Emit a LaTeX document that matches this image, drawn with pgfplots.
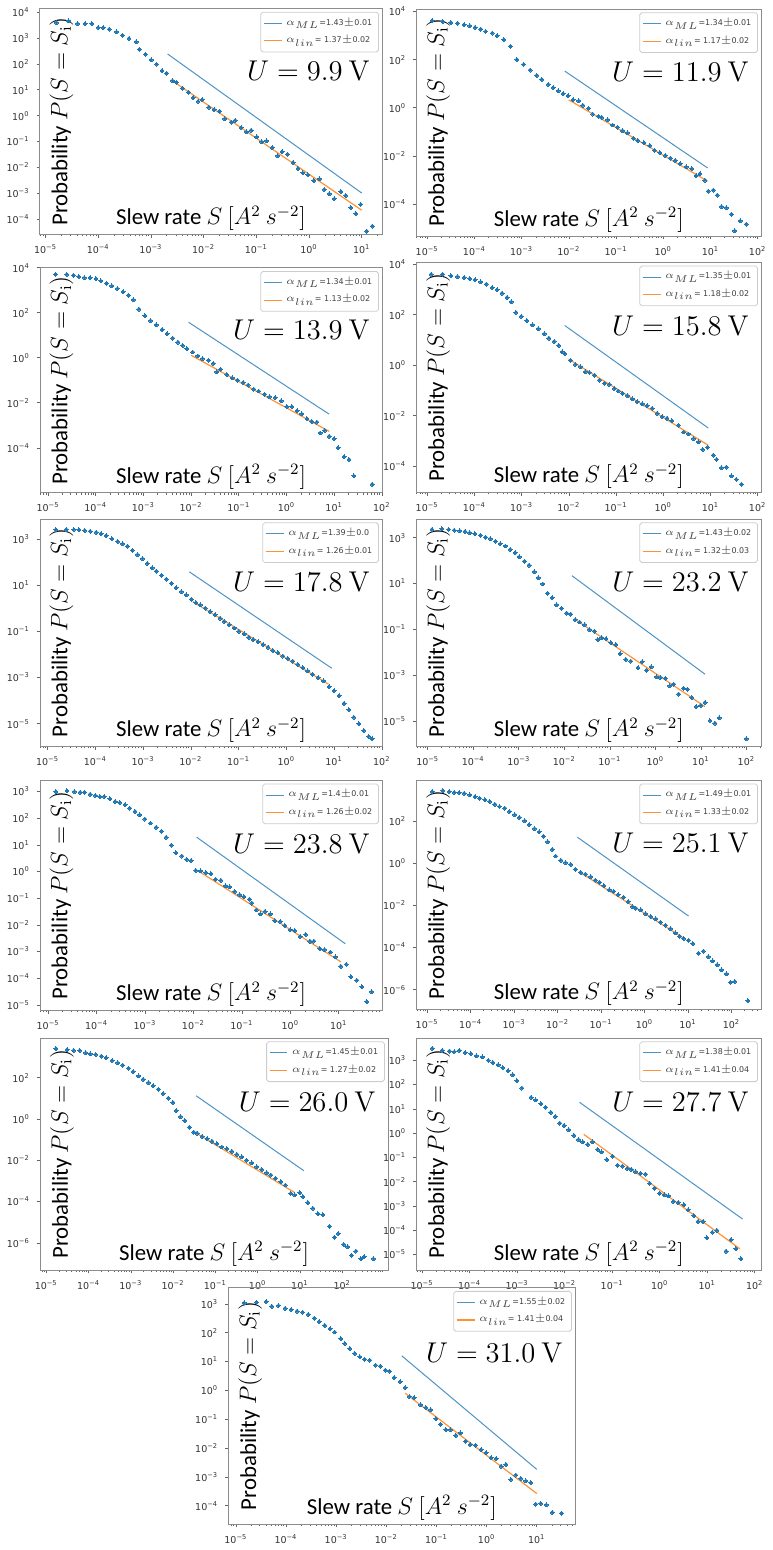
\documentclass[border=0pt]{standalone}
\usepackage[no-math]{fontspec}
\setmainfont{Carlito}
\newfontfamily\dejavu{DejaVu Sans}
\usepackage{pgfplots}
\pgfplotsset{compat=1.18}
\definecolor{mblue}{HTML}{1F77B4}
\definecolor{morange}{HTML}{FF7F0E}
\colorlet{lblue}{mblue!80}
\colorlet{lorange}{morange!85}
\newcommand\tl[1]{10\textsuperscript{#1}}
\def\minorx{-8}
\foreach \d in {-7,...,3}{\foreach \m in {2,...,9}{\pgfmathsetmacro\v{\d+log10(\m)}\xdef\minorx{\minorx,\v}}}
\newcommand\ylabfont{\fontsize{11.5}{13}\selectfont}
\newcommand\ulabfont{\fontsize{13.5}{15}\selectfont}
\pgfplotsset{
 panel/.style={
  scale only axis, anchor=north west,
  axis line style={black!45, line width=0.4pt},
  tick align=outside, xtick pos=lower, ytick pos=left,
  major tick length=1.6pt, minor tick length=0.9pt,
  every tick/.style={black!60, line width=0.3pt},
  tick label style={font=\dejavu\fontsize{4.8}{5.2}\selectfont, text=black!80},
  minor xtick=\minorx,
  xticklabels={\tl{−5},\tl{−4},\tl{−3},\tl{−2},\tl{−1},\tl{0},\tl{1},\tl{2}},
  legend style={at={(0.99,0.985)}, anchor=north east, draw=black!20, rounded corners=1pt,
    font=\dejavu\fontsize{4}{5.2}\selectfont, inner sep=1.2pt, fill=white, text=black!75},
  legend cell align=left,
 },
 dots/.style={only marks, color=mblue, mark=*, mark size=1pt, mark options={solid, draw=mblue, fill=mblue, line width=0pt}, forget plot},
 mlline/.style={draw=lblue, color=lblue, line width=0.5pt, no marks, legend image code/.code={\draw[lblue, line width=0.5pt] (0pt,0pt) -- (9pt,0pt);}},
 linline/.style={draw=lorange, color=lorange, line width=0.6pt, no marks, legend image code/.code={\draw[lorange, line width=0.6pt] (0pt,0pt) -- (9pt,0pt);}},
}
\newcommand\labels[1]{%
 \node[rotate=90, font=\ylabfont, inner sep=0pt] at (rel axis cs:0.063,0.5) {Probability $P\big(S = S_{\mathrm{i}}\big)$};
 \node[anchor=south, font=\ylabfont, inner sep=0pt] at (rel axis cs:0.5,0.015) {Slew rate $S\ \big[A^2\ s^{-2}\big]$};
 \node[anchor=east, font=\ulabfont, inner sep=0pt] at (rel axis cs:0.965,0.725) {$U = #1\ \mathrm{V}$};
}
\begin{document}
\begin{tikzpicture}
\path (0,0) rectangle (382.5pt,-775pt);
% ---------- P1 9.9 V
\begin{axis}[panel, at={(18.25pt,-4.25pt)}, width=172.75pt, height=114pt,
 xmin=-5.11, xmax=1.39, ymin=-4.59, ymax=4.14, xtick={-5,...,1},
 ytick={-4,...,4}, yticklabels={\tl{−4},\tl{−3},\tl{−2},\tl{−1},\tl{0},\tl{1},\tl{2},\tl{3},\tl{4}}]
\addplot[dots] coordinates {(-4.793,3.592)(-4.562,3.656)(-4.393,3.554)(-4.249,3.554)(-4.123,3.554)(-3.998,3.400)(-3.904,3.400)(-3.791,3.337)(-3.654,3.235)(-3.541,3.107)(-3.416,2.980)(-3.278,2.852)(-3.215,2.559)(-3.103,2.367)(-2.996,2.150)(-2.890,1.985)(-2.790,1.742)(-2.702,1.640)(-2.589,1.347)(-2.514,1.283)(-2.401,1.066)(-2.289,0.901)(-2.201,0.684)(-2.107,0.556)(-2.026,0.620)(-1.900,0.327)(-1.800,0.237)(-1.700,0.173)(-1.600,-0.120)(-1.475,-0.247)(-1.400,-0.184)(-1.287,-0.464)(-1.187,-0.630)(-1.099,-0.566)(-0.993,-0.821)(-0.899,-1.013)(-0.805,-0.974)(-0.698,-1.230)(-0.598,-1.548)(-0.510,-1.395)(-0.410,-1.485)(-0.304,-1.804)(-0.210,-2.033)(-0.116,-2.212)(-0.022,-2.288)(0.091,-2.505)(0.197,-2.441)(0.291,-2.849)(0.385,-3.015)(0.479,-3.207)(0.604,-2.926)(0.698,-3.079)(0.792,-3.551)(0.886,-3.781)(0.980,-3.423)(1.093,-4.457)(1.199,-4.265)};
\addplot[mlline] coordinates {(-2.683,2.380)(1.0,-2.990)}; \addlegendentry{$\alpha_{ML}$=1.43$\pm$0.01}
\addplot[linline] coordinates {(-2.621,1.385)(1.0,-3.653)}; \addlegendentry{$\alpha_{lin}$= 1.37$\pm$0.02}
\labels{9.9}
\end{axis}
% ---------- P2 11.9 V
\begin{axis}[panel, at={(208.15pt,-4.5pt)}, width=174pt, height=114.5pt,
 xmin=-5.23, xmax=2.08, ymin=-5.33, ymax=4.11, xtick={-5,...,2},
 ytick={-4,-2,0,2,4}, yticklabels={\tl{−4},\tl{−2},\tl{0},\tl{2},\tl{4}}]
\addplot[dots] coordinates {(-4.895,3.629)(-4.672,3.588)(-4.497,3.546)(-4.357,3.519)(-4.217,3.450)(-4.099,3.409)(-3.987,3.340)(-3.868,3.271)(-3.763,3.175)(-3.623,3.107)(-3.519,2.997)(-3.379,2.832)(-3.239,2.557)(-3.099,2.007)(-2.959,1.801)(-2.820,1.567)(-2.680,1.347)(-2.575,1.182)(-2.435,0.976)(-2.331,0.838)(-2.226,0.701)(-2.121,0.591)(-2.016,0.495)(-1.911,0.330)(-1.792,0.289)(-1.702,0.110)(-1.583,-0.027)(-1.492,-0.261)(-1.373,-0.357)(-1.303,-0.399)(-1.178,-0.495)(-1.073,-0.715)(-0.968,-0.811)(-0.863,-0.948)(-0.758,-1.045)(-0.632,-1.265)(-0.535,-1.361)(-0.409,-1.457)(-0.283,-1.567)(-0.185,-1.773)(-0.073,-1.869)(0.045,-1.979)(0.150,-2.089)(0.255,-2.186)(0.360,-2.323)(0.486,-2.460)(0.605,-2.529)(0.695,-2.832)(0.779,-2.735)(0.884,-3.010)(0.954,-3.464)(1.059,-3.423)(1.143,-3.629)(1.233,-4.110)(1.338,-4.151)(1.443,-4.426)(1.513,-5.113)(1.632,-4.701)(1.758,-4.838)};
\addplot[mlline] coordinates {(-2.086,1.526)(0.940,-2.502)}; \addlegendentry{$\alpha_{ML}$=1.34$\pm$0.01}
\addplot[linline] coordinates {(-2.002,0.330)(0.940,-3.052)}; \addlegendentry{$\alpha_{lin}$= 1.17$\pm$0.02}
\labels{11.9}
\end{axis}
% ---------- P3 13.9 V
\begin{axis}[panel, at={(18.35pt,-135pt)}, width=172.65pt, height=113.5pt,
 xmin=-5.17, xmax=2.01, ymin=-6.0, ymax=4.0, xtick={-5,...,2},
 ytick={-4,-2,0,2,4}, yticklabels={\tl{−4},\tl{−2},\tl{0},\tl{2},\tl{4}}]
\addplot[dots] coordinates {(-4.841,3.706)(-4.605,3.706)(-4.466,3.662)(-4.355,3.604)(-4.237,3.559)(-4.119,3.559)(-3.994,3.515)(-3.890,3.413)(-3.773,3.310)(-3.662,3.192)(-3.544,3.075)(-3.426,2.928)(-3.315,2.781)(-3.211,2.575)(-3.093,2.164)(-2.968,1.871)(-2.850,1.650)(-2.732,1.460)(-2.607,1.254)(-2.503,1.063)(-2.386,0.872)(-2.275,0.696)(-2.178,0.549)(-2.087,0.402)(-1.970,0.256)(-1.858,0.079)(-1.761,-0.038)(-1.637,-0.112)(-1.533,-0.259)(-1.463,-0.626)(-1.380,-0.508)(-1.255,-0.743)(-1.137,-0.890)(-1.026,-0.993)(-0.908,-1.095)(-0.804,-1.213)(-0.687,-1.389)(-0.582,-1.477)(-0.458,-1.624)(-0.354,-1.727)(-0.236,-1.771)(-0.111,-1.918)(0.007,-2.168)(0.111,-2.168)(0.222,-2.358)(0.319,-2.491)(0.430,-2.711)(0.527,-2.828)(0.638,-2.858)(0.707,-3.342)(0.804,-3.225)(0.895,-3.489)(0.999,-3.592)(1.082,-4.003)(1.207,-4.399)(1.311,-4.517)(1.415,-5.251)(1.796,-5.618)};
\addplot[mlline] coordinates {(-2.053,1.577)(0.895,-2.505)}; \addlegendentry{$\alpha_{ML}$=1.34$\pm$0.01}
\addplot[linline] coordinates {(-1.997,0.109)(0.895,-3.269)}; \addlegendentry{$\alpha_{lin}$= 1.13$\pm$0.02}
\labels{13.9}
\end{axis}
% ---------- P4 15.8 V
\begin{axis}[panel, at={(208.15pt,-132.15pt)}, width=174pt, height=116.2pt,
 xmin=-5.23, xmax=2.08, ymin=-5.05, ymax=4.09, xtick={-5,...,2},
 ytick={-4,-2,0,2,4}, yticklabels={\tl{−4},\tl{−2},\tl{0},\tl{2},\tl{4}}]
\addplot[dots] coordinates {(-4.916,3.607)(-4.672,3.607)(-4.497,3.541)(-4.357,3.515)(-4.217,3.475)(-4.099,3.436)(-3.987,3.384)(-3.868,3.305)(-3.749,3.213)(-3.623,3.082)(-3.519,2.990)(-3.414,2.859)(-3.309,2.689)(-3.218,2.518)(-3.120,2.098)(-3.008,1.941)(-2.890,1.770)(-2.771,1.600)(-2.645,1.443)(-2.519,1.246)(-2.421,1.075)(-2.310,0.944)(-2.212,0.787)(-2.142,0.525)(-2.086,0.459)(-1.960,0.197)(-1.862,0.026)(-1.750,-0.066)(-1.653,-0.262)(-1.562,-0.289)(-1.457,-0.393)(-1.352,-0.590)(-1.245,-0.721)(-1.143,-0.761)(-1.038,-0.918)(-0.954,-1.023)(-0.863,-1.115)(-0.758,-1.207)(-0.653,-1.338)(-0.549,-1.443)(-0.444,-1.534)(-0.339,-1.600)(-0.234,-1.705)(-0.129,-1.902)(-0.024,-2.033)(0.080,-2.098)(0.185,-2.203)(0.325,-2.387)(0.430,-2.649)(0.535,-2.728)(0.640,-2.911)(0.744,-3.043)(0.835,-3.344)(0.940,-3.252)(1.059,-3.567)(1.129,-3.738)(1.233,-4.066)(1.338,-4.039)(1.443,-4.393)(1.548,-4.525)(1.653,-4.721)};
\addplot[mlline] coordinates {(-2.086,1.574)(0.954,-2.492)}; \addlegendentry{$\alpha_{ML}$=1.35$\pm$0.01}
\addplot[linline] coordinates {(-2.002,0.236)(0.954,-3.174)}; \addlegendentry{$\alpha_{lin}$= 1.18$\pm$0.02}
\labels{15.8}
\end{axis}
% ---------- P5 17.8 V
\begin{axis}[panel, at={(18.35pt,-261.65pt)}, width=172.65pt, height=114.85pt,
 xmin=-5.16, xmax=2.01, ymin=-5.99, ymax=3.86, xtick={-5,...,2},
 ytick={-5,-3,-1,1,3}, yticklabels={\tl{−5},\tl{−3},\tl{−1},\tl{1},\tl{3}}]
\addplot[dots] coordinates {(-4.827,3.400)(-4.606,3.400)(-4.453,3.400)(-4.343,3.386)(-4.225,3.357)(-4.107,3.329)(-3.983,3.286)(-3.879,3.214)(-3.775,3.143)(-3.651,3.000)(-3.533,2.886)(-3.429,2.786)(-3.325,2.686)(-3.221,2.500)(-3.118,2.314)(-3.014,2.143)(-2.910,1.929)(-2.806,1.743)(-2.723,1.600)(-2.612,1.429)(-2.516,1.257)(-2.405,1.071)(-2.308,0.886)(-2.197,0.714)(-2.100,0.571)(-1.990,0.386)(-1.893,0.243)(-1.803,0.143)(-1.699,0.000)(-1.595,-0.143)(-1.491,-0.286)(-1.388,-0.429)(-1.298,-0.571)(-1.194,-0.714)(-1.090,-0.857)(-0.993,-1.000)(-0.882,-1.114)(-0.785,-1.257)(-0.696,-1.357)(-0.592,-1.457)(-0.488,-1.571)(-0.384,-1.686)(-0.280,-1.829)(-0.176,-1.929)(-0.073,-2.071)(0.031,-2.171)(0.135,-2.286)(0.239,-2.429)(0.343,-2.571)(0.446,-2.714)(0.550,-2.857)(0.668,-3.000)(0.779,-3.143)(0.896,-3.400)(1.000,-3.571)(1.104,-3.786)(1.208,-4.114)(1.311,-4.400)(1.415,-4.714)(1.519,-5.000)(1.623,-5.286)(1.727,-5.543)(1.796,-5.643)};
\addplot[mlline] coordinates {(-2.031,1.571)(0.952,-2.600)}; \addlegendentry{$\alpha_{ML}$=1.39$\pm$0.0}
\addplot[linline] coordinates {(-1.962,0.286)(0.882,-3.286)}; \addlegendentry{$\alpha_{lin}$= 1.26$\pm$0.01}
\labels{17.8}
\end{axis}
% ---------- P6 23.2 V
\begin{axis}[panel, at={(208.15pt,-261.65pt)}, width=174pt, height=114.85pt,
 xmin=-5.25, xmax=2.33, ymin=-6.11, ymax=3.82, xtick={-5,...,2},
 ytick={-5,-3,-1,1,3}, yticklabels={\tl{−5},\tl{−3},\tl{−1},\tl{1},\tl{3}}]
\addplot[dots] coordinates {(-4.906,3.360)(-4.688,3.389)(-4.543,3.360)(-4.420,3.331)(-4.297,3.303)(-4.181,3.274)(-4.079,3.216)(-3.963,3.173)(-3.840,3.101)(-3.731,3.029)(-3.622,2.957)(-3.513,2.841)(-3.405,2.741)(-3.296,2.640)(-3.187,2.496)(-3.078,2.352)(-2.991,2.164)(-2.875,1.977)(-2.774,1.804)(-2.658,1.516)(-2.571,1.256)(-2.469,0.983)(-2.368,0.579)(-2.266,0.392)(-2.172,0.075)(-2.063,-0.069)(-1.949,-0.285)(-1.860,-0.329)(-1.758,-0.573)(-1.664,-0.674)(-1.555,-0.790)(-1.447,-1.006)(-1.338,-1.078)(-1.265,-1.438)(-1.178,-1.366)(-1.084,-1.395)(-0.975,-1.582)(-0.867,-1.654)(-0.772,-2.058)(-0.649,-2.303)(-0.540,-2.375)(-0.381,-2.663)(-0.286,-2.403)(-0.192,-2.778)(-0.091,-2.634)(0.025,-3.066)(0.112,-3.095)(0.221,-3.124)(0.315,-3.455)(0.402,-3.383)(0.511,-3.816)(0.620,-3.556)(0.707,-3.599)(0.801,-3.960)(0.896,-4.363)(0.997,-4.305)(1.091,-4.176)(1.200,-4.968)(1.309,-5.084)(1.403,-4.853)(1.998,-5.761)};
\addplot[mlline] coordinates {(-1.831,1.343)(1.091,-2.951)}; \addlegendentry{$\alpha_{ML}$=1.43$\pm$0.02}
\addplot[linline] coordinates {(-1.787,-0.530)(1.091,-4.363)}; \addlegendentry{$\alpha_{lin}$= 1.32$\pm$0.03}
\labels{23.2}
\end{axis}
% ---------- P7 23.8 V
\begin{axis}[panel, at={(18.35pt,-393.35pt)}, width=172.65pt, height=116.15pt,
 xmin=-5.17, xmax=1.9, ymin=-5.21, ymax=3.43, xtick={-5,...,1},
 ytick={-5,...,3}, yticklabels={\tl{−5},\tl{−4},\tl{−3},\tl{−2},\tl{−1},\tl{0},\tl{1},\tl{2},\tl{3}}]
\addplot[dots] coordinates {(-4.843,3.000)(-4.611,3.037)(-4.455,3.000)(-4.339,2.975)(-4.250,2.975)(-4.134,2.901)(-4.025,2.851)(-3.930,2.814)(-3.841,2.814)(-3.725,2.727)(-3.616,2.628)(-3.521,2.591)(-3.412,2.504)(-3.316,2.380)(-3.207,2.256)(-3.112,2.132)(-3.003,1.970)(-2.887,1.821)(-2.771,1.660)(-2.662,1.511)(-2.566,1.288)(-2.457,0.990)(-2.362,0.705)(-2.239,0.581)(-2.137,0.457)(-2.048,0.419)(-1.953,0.047)(-1.851,0.022)(-1.748,-0.040)(-1.639,-0.077)(-1.544,-0.288)(-1.435,-0.325)(-1.339,-0.536)(-1.251,-0.573)(-1.149,-0.747)(-1.046,-0.871)(-0.958,-0.945)(-0.842,-1.032)(-0.794,-1.181)(-0.706,-1.442)(-0.617,-1.591)(-0.521,-1.491)(-0.412,-1.591)(-0.317,-1.839)(-0.208,-1.864)(-0.112,-2.025)(-0.003,-2.186)(0.092,-2.211)(0.201,-2.434)(0.317,-2.360)(0.406,-2.608)(0.487,-2.608)(0.610,-2.893)(0.706,-2.931)(0.828,-3.017)(0.931,-3.203)(1.046,-3.551)(1.155,-3.476)(1.251,-3.948)(1.374,-4.072)(1.476,-4.320)(1.578,-4.878)(1.680,-4.506)};
\addplot[mlline] coordinates {(-1.933,1.288)(1.135,-2.707)}; \addlegendentry{$\alpha_{ML}$=1.4$\pm$0.01}
\addplot[linline] coordinates {(-1.898,0.022)(1.046,-3.390)}; \addlegendentry{$\alpha_{lin}$= 1.26$\pm$0.02}
\labels{23.8}
\end{axis}
% ---------- P8 25.1 V
\begin{axis}[panel, at={(208.15pt,-393.35pt)}, width=174pt, height=115.65pt,
 xmin=-5.25, xmax=2.69, ymin=-6.94, ymax=3.96, xtick={-5,...,2},
 ytick={-6,-4,-2,0,2}, yticklabels={\tl{−6},\tl{−4},\tl{−2},\tl{0},\tl{2}}]
\addplot[dots] coordinates {(-4.886,3.412)(-4.643,3.459)(-4.491,3.412)(-4.377,3.380)(-4.263,3.365)(-4.150,3.333)(-4.020,3.255)(-3.899,3.176)(-3.793,3.098)(-3.671,3.020)(-3.565,2.941)(-3.443,2.816)(-3.337,2.706)(-3.216,2.627)(-3.109,2.471)(-2.988,2.314)(-2.882,2.188)(-2.760,2.031)(-2.654,1.843)(-2.532,1.655)(-2.426,1.498)(-2.327,1.294)(-2.229,1.027)(-2.122,0.667)(-2.046,0.353)(-1.925,0.149)(-1.818,0.039)(-1.697,-0.039)(-1.590,-0.275)(-1.469,-0.431)(-1.363,-0.510)(-1.241,-0.635)(-1.135,-0.792)(-1.036,-0.902)(-0.937,-1.059)(-0.809,-1.247)(-0.710,-1.325)(-0.604,-1.482)(-0.482,-1.608)(-0.376,-1.812)(-0.277,-2.047)(-0.201,-2.125)(-0.087,-2.204)(0.027,-2.392)(0.140,-2.518)(0.254,-2.627)(0.368,-2.784)(0.482,-2.941)(0.596,-3.098)(0.710,-3.302)(0.809,-3.459)(0.900,-3.569)(1.014,-3.647)(1.112,-3.804)(1.241,-4.275)(1.355,-4.165)(1.469,-4.431)(1.568,-4.635)(1.674,-4.824)(1.773,-5.059)(1.887,-5.247)(1.978,-5.655)(2.077,-5.608)(2.380,-6.518)};
\addplot[mlline] coordinates {(-1.545,1.247)(1.014,-2.502)}; \addlegendentry{$\alpha_{ML}$=1.49$\pm$0.01}
\addplot[linline] coordinates {(-1.515,-0.384)(0.915,-3.569)}; \addlegendentry{$\alpha_{lin}$= 1.33$\pm$0.02}
\labels{25.1}
\end{axis}
% ---------- P9 26.0 V
\begin{axis}[panel, at={(18.35pt,-523.35pt)}, width=175.65pt, height=117.15pt,
 xmin=-5.15, xmax=3.09, ymin=-7.33, ymax=3.92, xtick={-5,...,2},
 ytick={-6,-4,-2,0,2}, yticklabels={\tl{−6},\tl{−4},\tl{−2},\tl{0},\tl{2}}]
\addplot[dots] coordinates {(-4.773,3.408)(-4.507,3.360)(-4.351,3.312)(-4.210,3.312)(-4.069,3.200)(-3.959,3.152)(-3.834,3.120)(-3.701,3.040)(-3.584,2.960)(-3.443,2.832)(-3.310,2.720)(-3.192,2.608)(-3.052,2.448)(-2.942,2.288)(-2.817,2.080)(-2.707,1.920)(-2.582,1.760)(-2.473,1.600)(-2.347,1.440)(-2.238,1.232)(-2.113,1.008)(-2.003,0.800)(-1.925,0.400)(-1.823,0.112)(-1.721,-0.080)(-1.612,-0.400)(-1.510,-0.640)(-1.432,-0.688)(-1.315,-0.848)(-1.197,-0.960)(-1.080,-1.072)(-0.962,-1.200)(-0.845,-1.360)(-0.728,-1.440)(-0.610,-1.568)(-0.493,-1.712)(-0.376,-1.840)(-0.258,-2.000)(-0.141,-2.128)(-0.023,-2.320)(0.094,-2.448)(0.211,-2.608)(0.313,-2.720)(0.423,-2.880)(0.548,-3.040)(0.657,-3.200)(0.783,-3.600)(0.876,-3.680)(0.994,-3.568)(1.072,-3.760)(1.189,-4.048)(1.307,-4.320)(1.424,-4.592)(1.541,-4.640)(1.698,-5.200)(1.815,-5.728)(1.909,-5.552)(2.034,-6.080)(2.128,-6.192)(2.222,-6.608)(2.324,-6.400)(2.441,-6.768)(2.520,-6.672)(2.739,-6.768)};
\addplot[mlline] coordinates {(-1.455,1.120)(1.095,-2.512)}; \addlegendentry{$\alpha_{ML}$=1.45$\pm$0.01}
\addplot[linline] coordinates {(-1.455,-0.688)(0.876,-3.568)}; \addlegendentry{$\alpha_{lin}$= 1.27$\pm$0.02}
\labels{26.0}
\end{axis}
% ---------- P10 27.7 V
\begin{axis}[panel, at={(208.15pt,-523.35pt)}, width=174pt, height=117.15pt,
 xmin=-5.12, xmax=2.14, ymin=-5.65, ymax=3.92, xtick={-5,...,2},
 ytick={-5,...,3}, yticklabels={\tl{−5},\tl{−4},\tl{−3},\tl{−2},\tl{−1},\tl{0},\tl{1},\tl{2},\tl{3}}]
\addplot[dots] coordinates {(-4.785,3.490)(-4.577,3.409)(-4.425,3.381)(-4.321,3.354)(-4.217,3.409)(-4.092,3.313)(-3.974,3.272)(-3.857,3.177)(-3.732,3.136)(-3.607,3.000)(-3.510,2.905)(-3.399,2.809)(-3.302,2.700)(-3.191,2.564)(-3.094,2.401)(-3.004,2.155)(-2.900,1.856)(-2.706,1.474)(-2.609,1.365)(-2.498,1.202)(-2.401,1.065)(-2.290,0.861)(-2.193,0.684)(-2.103,0.411)(-2.013,0.316)(-1.916,0.139)(-1.805,-0.093)(-1.708,-0.270)(-1.618,-0.365)(-1.514,-0.460)(-1.410,-0.365)(-1.306,-0.678)(-1.223,-0.774)(-1.112,-1.087)(-0.994,-0.951)(-0.890,-1.319)(-0.786,-1.360)(-0.683,-1.455)(-0.599,-1.496)(-0.509,-1.591)(-0.405,-1.659)(-0.301,-1.687)(-0.211,-2.068)(-0.114,-2.272)(-0.003,-2.477)(0.094,-2.545)(0.184,-2.586)(0.288,-2.817)(0.392,-2.858)(0.509,-2.954)(0.600,-3.158)(0.717,-3.403)(0.807,-3.635)(0.911,-3.635)(0.994,-4.316)(1.105,-4.084)(1.202,-4.003)(1.396,-4.861)(1.500,-4.384)(1.604,-4.766)(1.708,-5.174)};
\addplot[mlline] coordinates {(-1.687,1.270)(1.743,-3.540)}; \addlegendentry{$\alpha_{ML}$=1.38$\pm$0.01}
\addplot[linline] coordinates {(-1.597,-0.052)(1.687,-4.766)}; \addlegendentry{$\alpha_{lin}$= 1.41$\pm$0.04}
\labels{27.7}
\end{axis}
% ---------- P11 31.0 V
\begin{axis}[panel, at={(113.35pt,-649.15pt)}, width=175pt, height=119.35pt,
 xmin=-5.15, xmax=1.77, ymin=-4.64, ymax=3.57, xtick={-5,...,1},
 ytick={-4,...,3}, yticklabels={\tl{−4},\tl{−3},\tl{−2},\tl{−1},\tl{0},\tl{1},\tl{2},\tl{3}}]
\addplot[dots] coordinates {(-4.835,3.034)(-4.591,3.057)(-4.394,3.080)(-4.281,2.920)(-4.150,2.943)(-4.018,2.851)(-3.899,2.805)(-3.780,2.747)(-3.668,2.713)(-3.556,2.633)(-3.438,2.506)(-3.339,2.391)(-3.227,2.254)(-3.121,2.139)(-3.029,2.024)(-2.910,1.794)(-2.831,1.622)(-2.726,1.450)(-2.633,1.278)(-2.528,1.163)(-2.436,1.083)(-2.330,1.048)(-2.218,0.876)(-2.119,0.842)(-2.020,0.704)(-1.935,0.669)(-1.842,0.440)(-1.724,0.302)(-1.625,0.095)(-1.539,-0.215)(-1.447,-0.249)(-1.315,-0.502)(-1.210,-0.594)(-1.117,-0.674)(-1.012,-0.984)(-0.920,-1.168)(-0.814,-1.363)(-0.722,-1.363)(-0.616,-1.558)(-0.524,-1.478)(-0.418,-1.765)(-0.326,-1.880)(-0.221,-1.902)(-0.109,-2.052)(-0.010,-2.166)(0.089,-2.339)(0.188,-2.362)(0.287,-2.626)(0.386,-2.568)(0.485,-3.085)(0.583,-2.936)(0.682,-3.051)(0.781,-3.142)(0.880,-3.200)(0.979,-3.946)(1.078,-3.923)(1.190,-3.969)(1.309,-4.233)(1.493,-4.256)};
\addplot[mlline] coordinates {(-1.691,1.197)(1.0,-2.741)}; \addlegendentry{$\alpha_{ML}$=1.55$\pm$0.02}
\addplot[linline] coordinates {(-1.625,-0.100)(1.0,-3.579)}; \addlegendentry{$\alpha_{lin}$= 1.41$\pm$0.04}
\labels{31.0}
\end{axis}
\end{tikzpicture}
\end{document}
